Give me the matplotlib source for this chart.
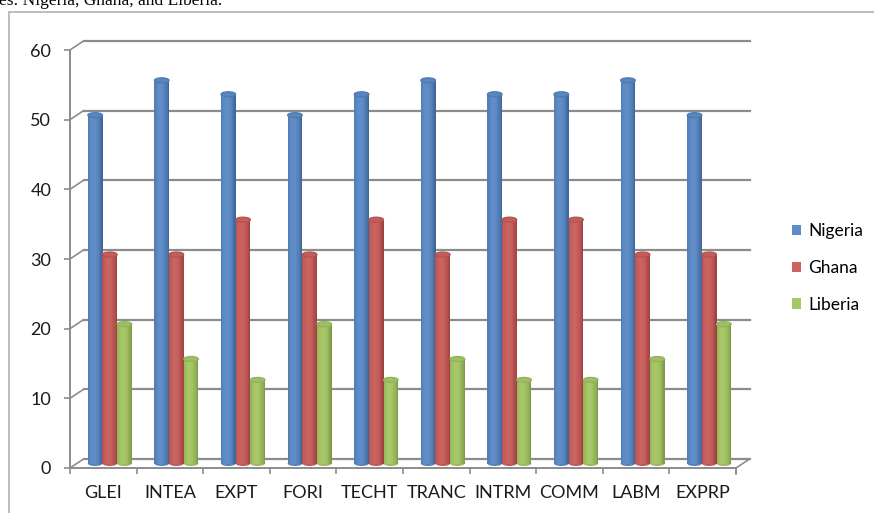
import numpy as np
import matplotlib.pyplot as plt
from matplotlib.patches import Ellipse, Patch, Rectangle
from matplotlib.colors import to_rgb

categories = ["GLEI", "INTEA", "EXPT", "FORI", "TECHT", "TRANC", "INTRM", "COMM", "LABM", "EXPRP"]
nigeria = [50, 55, 53, 50, 53, 55, 53, 53, 55, 50]
ghana = [30, 30, 35, 30, 35, 30, 35, 35, 30, 30]
liberia = [20, 15, 12, 20, 12, 15, 12, 12, 15, 20]
series = [("Nigeria", nigeria, "#4A7EC0"),
          ("Ghana", ghana, "#C44E4B"),
          ("Liberia", liberia, "#9BC055")]
yticks = [0, 10, 20, 30, 40, 50, 60]

plt.rcParams['font.family'] = ['Lato', 'DejaVu Sans']

W, H = 874, 513
fig = plt.figure(figsize=(W / 100, H / 100), dpi=100)
ax = fig.add_axes([70 / W, 45 / H, 666 / W, 418 / H])
ax.set_xlim(0, len(categories))
ax.set_ylim(0, 60)

# pixel -> data unit conversion for the fake 3d depth
px_x = len(categories) / 666
px_y = 60 / 418
back_dx, back_dy = 13.5 * px_x, 9 * px_y
mid_dx, mid_dy = 6.5 * px_x, 4.5 * px_y

grid_col = "#8c8c8c"
n = len(categories)

# back wall gridlines + side wall diagonals
for y in yticks:
    ax.plot([back_dx, n + back_dx], [y + back_dy, y + back_dy], color=grid_col,
            lw=1.6, clip_on=False, zorder=1)
    ax.plot([0, back_dx], [y, y + back_dy], color=grid_col, lw=1.2,
            clip_on=False, zorder=1)
# floor right edge
ax.plot([n, n + back_dx], [0, back_dy], color=grid_col, lw=1.2, clip_on=False, zorder=1)
ax.plot([n, n], [0, -6 * px_y], color=grid_col, lw=1.2, clip_on=False, zorder=1)


def shade(base, t):
    base = np.array(to_rgb(base))
    dark = base * 0.78
    light = base + (1 - base) * 0.12
    d = np.clip((t - 0.4) / 0.6, -1, 1)
    k = 1 - d ** 2
    return dark + (light - dark) * k


bw = 0.22
nstrip = 12
for j, (name, vals, col) in enumerate(series):
    xs = np.arange(n) + 0.5 + (j - 1) * bw + mid_dx
    for xc, v in zip(xs, vals):
        left = xc - bw / 2
        sw = bw / nstrip
        # rounded bottom of the cylinder
        ax.add_patch(Ellipse((xc, mid_dy), bw, 5 * px_y, facecolor=shade(col, 0.1),
                             edgecolor="none", zorder=2 + j * 0.1, clip_on=False))
        for s in range(nstrip):
            t = (s + 0.5) / nstrip
            ax.bar(left + s * sw, v, width=sw * 1.08, bottom=mid_dy, align="edge",
                   color=shade(col, t), linewidth=0, zorder=3 + j * 0.1, clip_on=False)
        # top cap
        ax.add_patch(Ellipse((xc, v + mid_dy), bw, 5 * px_y, facecolor=shade(col, 0.15),
                             edgecolor=shade(col, 0.0), lw=0.9, zorder=4 + j * 0.1,
                             clip_on=False))

for s in ["top", "right"]:
    ax.spines[s].set_visible(False)
for s in ["left", "bottom"]:
    ax.spines[s].set_color(grid_col)
    ax.spines[s].set_linewidth(1.4)
    ax.spines[s].set_zorder(6)

ax.set_yticks(yticks)
ax.set_yticklabels([str(v) for v in yticks], fontsize=13, color="#1a1a1a")
ax.tick_params(axis="y", direction="out", length=4.5, width=1.2, color=grid_col, pad=9)

ax.set_xticks(np.arange(n) + 0.5)
ax.set_xticklabels(categories, fontsize=13, color="#1a1a1a")
ax.set_xticks(np.arange(n + 1), minor=True)
ax.tick_params(axis="x", which="major", length=0, pad=12)
ax.tick_params(axis="x", which="minor", direction="out", length=4.5, width=1.2,
               color=grid_col)

handles = [Patch(facecolor=shade(c, 0.3), edgecolor="none") for _, _, c in series]
fig.legend(handles, [s[0] for s in series], loc="center left",
           bbox_to_anchor=(783 / W, 1 - 268 / H), frameon=False, fontsize=12.5,
           handlelength=0.55, handleheight=0.55, handletextpad=0.4,
           labelspacing=1.2, borderpad=0)

# chart border and caption line running off the top edge
fig.add_artist(Rectangle((9 / W, -0.5), 2, 1.5 - 12 / H, transform=fig.transFigure,
                         fill=False, edgecolor="#b8b8b8", lw=1.3))
fig.text(-1 / W, 1 - 5 / H, "es: Nigeria, Ghana, and Liberia.", fontsize=12.5,
         family="Liberation Serif", va="baseline", ha="left", color="black")

fig.savefig("out.png", dpi=100)
